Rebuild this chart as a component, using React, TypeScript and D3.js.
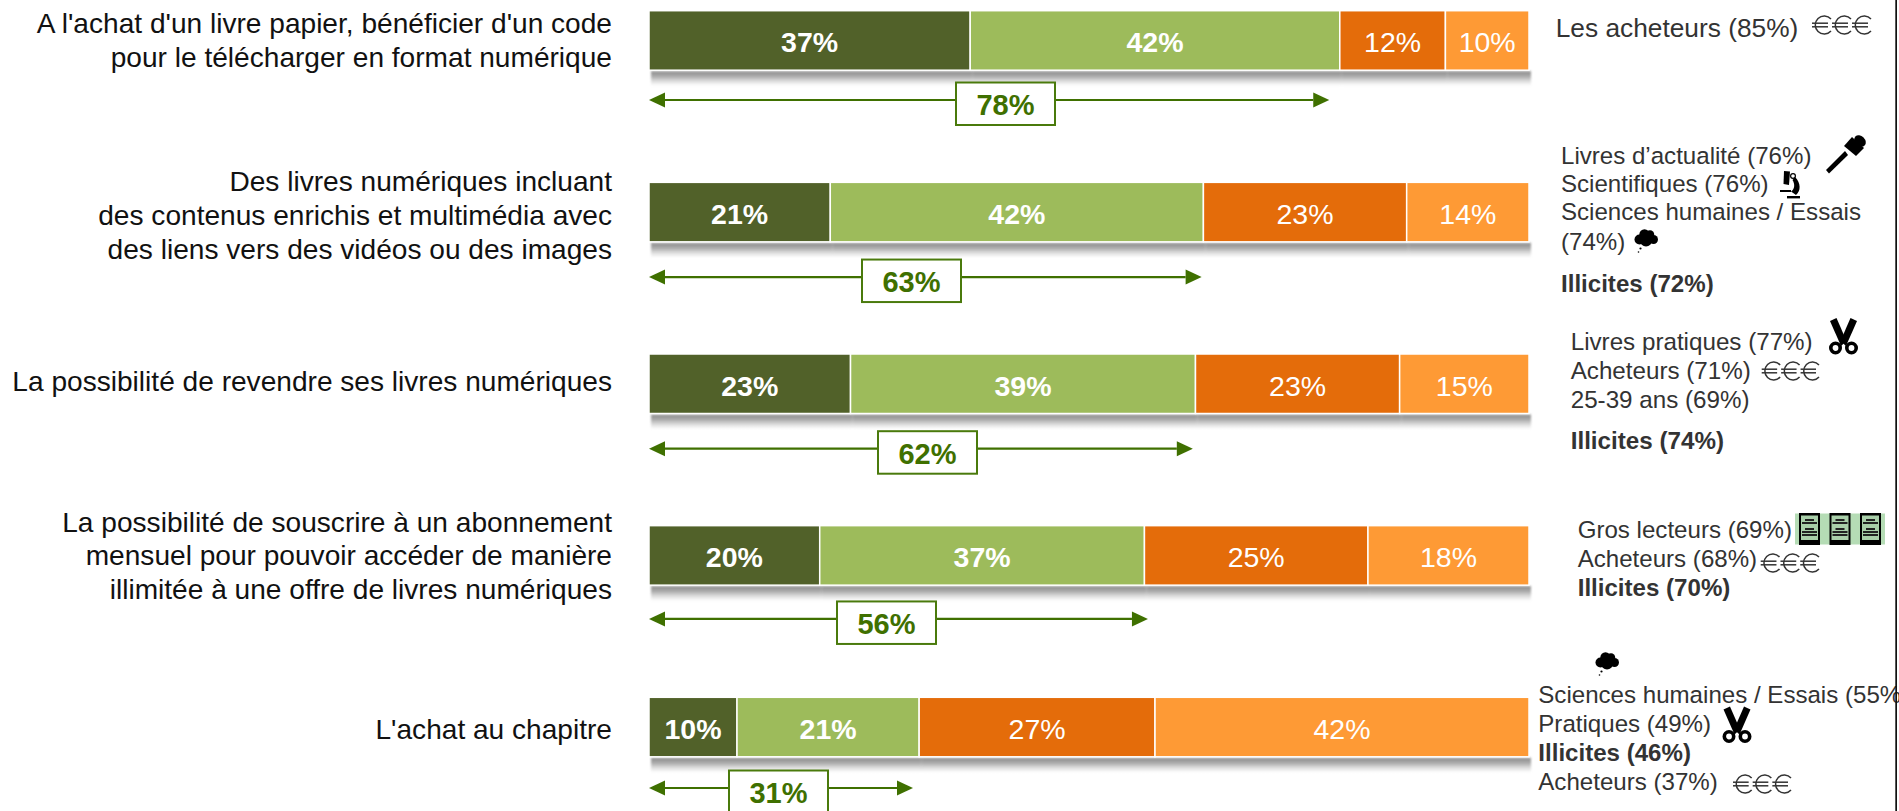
import React from "react";
import * as d3 from "d3";

const W = 1899;
const H = 811;

// ---- data ----
const questions = [
  ["A l'achat d'un livre papier, bénéficier d'un code", "pour le télécharger en format numérique"],
  ["Des livres numériques incluant", "des contenus enrichis et multimédia avec", "des liens vers des vidéos ou des images"],
  ["La possibilité de revendre ses livres numériques"],
  ["La possibilité de souscrire à un abonnement", "mensuel pour pouvoir accéder de manière", "illimitée à une offre de livres numériques"],
  ["L'achat au chapitre"],
];
const shareA = [36.5, 20.6, 22.9, 19.4, 10.0];
const shareB = [42.0, 42.4, 39.2, 36.9, 20.7];
const shareC = [12.0, 23.1, 23.2, 25.4, 26.8];
const shareD = [9.5, 13.9, 14.7, 18.3, 42.5];
const labelA = ["37%", "21%", "23%", "20%", "10%"];
const labelB = ["42%", "42%", "39%", "37%", "21%"];
const labelC = ["12%", "23%", "23%", "25%", "27%"];
const labelD = ["10%", "14%", "15%", "18%", "42%"];
const totalReach = [77.3, 62.8, 61.8, 56.7, 30.0];
const totalLabels = ["78%", "63%", "62%", "56%", "31%"];

type Note = { t: string; b?: boolean };
const notes: Note[][] = [
  [{ t: "Les acheteurs (85%)" }],
  [{ t: "Livres d’actualité (76%)" }, { t: "Scientifiques (76%)" }, { t: "Sciences humaines / Essais" }, { t: "(74%)" }, { t: "Illicites (72%)", b: true }],
  [{ t: "Livres pratiques (77%)" }, { t: "Acheteurs (71%)" }, { t: "25-39 ans (69%)" }, { t: "Illicites (74%)", b: true }],
  [{ t: "Gros lecteurs (69%)" }, { t: "Acheteurs (68%)" }, { t: "Illicites (70%)", b: true }],
  [{ t: "Sciences humaines / Essais (55%" }, { t: "Pratiques (49%)" }, { t: "Illicites (46%)", b: true }, { t: "Acheteurs (37%)" }],
];

// ---- layout ----
const colors = ["#516129", "#9dbb5b", "#e46c0a", "#fe9a35"];
const boldSeg = [true, true, false, false];
const barH = 59.5;
const font = "'Liberation Sans', Arial, sans-serif";
const questionBaselines = [[32.7, 66.7], [190.7, 224.7, 258.7], [390.7], [531.7, 565.4, 599], [739.3]];
const arrowOffset = [89.3, 94.7, 94.7, 93.3, 90.7];
const boxLeft = [956, 862, 878, 837, 729];
const noteX = [1555.7, 1561, 1570.7, 1577.7, 1538.3];
const noteSize = [26.3, 24.1, 24.2, 24.1, 24.1];
const noteBaselines = [[37], [163.7, 191.7, 220.3, 250, 292], [350.3, 379, 407.7, 449], [537.5, 566.5, 596], [703, 732, 761, 790]];

const x = d3.scaleLinear().domain([0, 100]).range([649, 1529]);
const y = d3.scalePoint<number>().domain(d3.range(5)).range([10.7, 697.3]);

const rows = questions.map((_, i) => {
  const vals = [shareA[i], shareB[i], shareC[i], shareD[i]];
  const labels = [labelA[i], labelB[i], labelC[i], labelD[i]];
  const cum = Array.from(d3.cumsum(vals));
  const sum = cum[3];
  return vals.map((_v, j) => ({
    x0: x(((cum[j] - vals[j]) / sum) * 100),
    x1: x((cum[j] / sum) * 100),
    label: labels[j],
    j,
  }));
});

const Euros = ({ x0, x1, base, h = 18 }: { x0: number; x1: number; base: number; h?: number }) => {
  const w = (x1 - x0) / 3;
  return (
    <g fill="none" stroke="#333" strokeWidth={1.5}>
      {[0, 1, 2].map((k) => {
        const l = x0 + k * w;
        const r = l + w - 1;
        const top = base - h;
        return (
          <g key={k}>
            <path d={`M${r},${top + 3} A${w * 0.45},${h * 0.5} 0 1 0 ${r},${base - 3}`} />
            <line x1={l} x2={r - 3} y1={base - h * 0.6} y2={base - h * 0.6} />
            <line x1={l} x2={r - 3} y1={base - h * 0.4} y2={base - h * 0.4} />
          </g>
        );
      })}
    </g>
  );
};

const Mic = () => (
  <g fill="#000">
    <polygon points="1826,170 1829,173.5 1848,155 1845,151" />
    <polygon points="1844,146 1852,137 1864,148 1856,156" />
    <ellipse cx={1860} cy={141} rx={5} ry={6.5} transform="rotate(-45 1860 141)" />
  </g>
);

const Microscope = () => (
  <g fill="#000">
    <polygon points="1784,171 1790,171.5 1789,185 1783.5,184" />
    <circle cx={1793} cy={176} r={2.4} fill="#fff" stroke="#000" strokeWidth={1.2} />
    <path d="M1795,177 C1801,183 1801,191 1796,195 L1791,191.5 C1795,189 1795,184 1792.5,180 Z" />
    <rect x={1780} y={190} width={11} height={2} />
    <rect x={1787} y={196} width={13} height={2.4} />
  </g>
);

const Cloud = ({ dx, dy }: { dx: number; dy: number }) => (
  <g fill="#000" transform={`translate(${dx},${dy})`}>
    <circle cx={5.5} cy={10.5} r={5} />
    <circle cx={10.5} cy={5.5} r={5.2} />
    <circle cx={16} cy={5.5} r={4.2} />
    <circle cx={19.5} cy={10.5} r={4.5} />
    <circle cx={12} cy={11.5} r={6} />
    <circle cx={6.5} cy={19.5} r={1.1} />
    <circle cx={4.5} cy={23} r={0.8} />
  </g>
);

const Scissors = ({ dx, dy }: { dx: number; dy: number }) => (
  <g transform={`translate(${dx},${dy})`}>
    <path d="M1,3 L7.5,0 L17.5,23 L12,28 Z" fill="#000" />
    <path d="M28,3 L21.5,0 L11.5,23 L17,28 Z" fill="#000" />
    <circle cx={6.5} cy={30} r={4.7} fill="#fff" stroke="#000" strokeWidth={3.6} />
    <circle cx={22.5} cy={30} r={4.7} fill="#fff" stroke="#000" strokeWidth={3.6} />
  </g>
);

const readerXs = [1799, 1829.5, 1860];
const Readers = () => (
  <g>
    <rect x={1795} y={513.5} width={90} height={31} fill="#b5dcb5" />
    {readerXs.map((rx) => (
      <g key={rx}>
        <rect x={rx} y={513} width={21} height={32} fill="#000" />
        <rect x={rx + 2} y={515.5} width={17} height={24.5} fill="#a9cfa9" />
        {[519, 522, 528, 531, 534].map((sy) => (
          <rect key={sy} x={rx + (sy === 519 || sy === 528 ? 6 : 3)} y={sy} width={sy === 519 || sy === 528 ? 9 : 15} height={2} fill="#222" />
        ))}
      </g>
    ))}
  </g>
);

export default function App() {
  return (
    <svg width={W} height={H} viewBox={`0 0 ${W} ${H}`} style={{ position: "absolute", left: 0, top: 0, display: "block", background: "#fff" }}>
      <defs>
        <linearGradient id="sh" x1="0" y1="0" x2="0" y2="1">
          <stop offset="0" stopColor="#777" stopOpacity={0.85} />
          <stop offset="0.35" stopColor="#888" stopOpacity={0.7} />
          <stop offset="1" stopColor="#bbb" stopOpacity={0} />
        </linearGradient>
        <filter id="soft" x="-5%" y="-30%" width="110%" height="160%">
          <feGaussianBlur stdDeviation="0.8" />
        </filter>
      </defs>

      {questions.map((lines, i) => (
        <g key={i}>
          {lines.map((l, k) => (
            <text key={k} x={612} y={questionBaselines[i][k]} textAnchor="end" fontFamily={font} fontSize={28.1} fill="#111">{l}</text>
          ))}
        </g>
      ))}

      {rows.map((segs, i) => {
        const top = y(i)!;
        const ay = top + arrowOffset[i];
        const x0 = x(0);
        const x1 = x(totalReach[i]);
        const head = 16;
        const boxTop = ay - 17.5;
        return (
          <g key={i}>
            <g filter="url(#soft)">
              {segs.map((s) => (
                <rect key={s.j} x={s.x0 + 2} y={top + barH + 1} width={s.x1 - s.x0} height={15} fill="url(#sh)" />
              ))}
            </g>
            {segs.map((s) => (
              <rect key={s.j} x={s.x0} y={top} width={s.x1 - s.x0} height={barH} fill={colors[s.j]} stroke="#fff" strokeWidth={1.5} />
            ))}
            {segs.map((s) => (
              <text key={s.j} x={(s.x0 + s.x1) / 2} y={top + 41.5} textAnchor="middle" fontFamily={font} fontSize={28.5} fontWeight={boldSeg[s.j] ? 700 : 400} fill="#fff">{s.label}</text>
            ))}
            <line x1={x0 + head} x2={x1 - head} y1={ay} y2={ay} stroke="#3f7000" strokeWidth={2.2} />
            <path d={`M${x0},${ay} L${x0 + head},${ay - 7.5} L${x0 + head},${ay + 7.5} Z`} fill="#3f7000" />
            <path d={`M${x1},${ay} L${x1 - head},${ay - 7.5} L${x1 - head},${ay + 7.5} Z`} fill="#3f7000" />
            <rect x={boxLeft[i]} y={boxTop} width={99} height={42.5} fill="#fff" stroke="#4a7a0c" strokeWidth={2} />
            <text x={boxLeft[i] + 49.5} y={boxTop + 32.5} textAnchor="middle" fontFamily={font} fontSize={29} fontWeight={700} fill="#3f7000">{totalLabels[i]}</text>
          </g>
        );
      })}

      <g>
        {notes.map((block, i) =>
          block.map((n, k) => (
            <text key={`${i}-${k}`} x={noteX[i]} y={noteBaselines[i][k]} fontFamily={font} fontSize={noteSize[i]} fontWeight={n.b ? 700 : 400} fill="#333">{n.t}</text>
          ))
        )}
      </g>

      <Euros x0={1812} x1={1872} base={34} />
      <Euros x0={1761.7} x1={1820} base={380} />
      <Euros x0={1760.7} x1={1820} base={572} />
      <Euros x0={1733} x1={1792} base={793} />
      <Mic />
      <Microscope />
      <Cloud dx={1634} dy={229} />
      <Cloud dx={1595} dy={652} />
      <Scissors dx={1829} dy={318} />
      <Scissors dx={1722.5} dy={706.5} />
      <Readers />

      <rect x={1895.3} y={0} width={1.7} height={H} fill="#111" />
    </svg>
  );
}
